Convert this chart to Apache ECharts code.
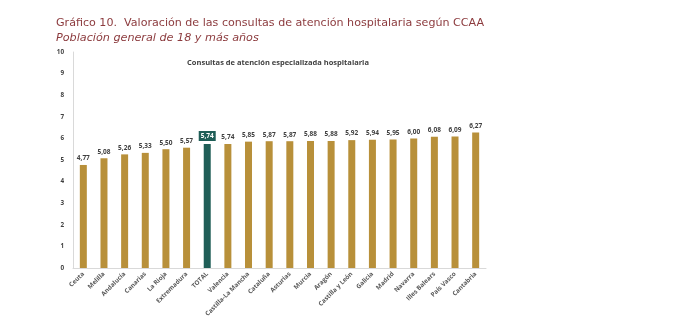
<!DOCTYPE html>
<html><head><meta charset="utf-8">
<script src="https://cdn.jsdelivr.net/npm/echarts@6/dist/echarts.min.js"></script>
<style>html,body{margin:0;padding:0;background:#fff}#c{width:684px;height:332px}</style>
</head><body><div id="c"></div>
<script>
const categories = ["Ceuta","Melilla","Andalucía","Canarias","La Rioja","Extremadura","TOTAL","Valencia","Castilla-La Mancha","Cataluña","Asturias","Murcia","Aragón","Castilla y León","Galicia","Madrid","Navarra","Illes Balears","País Vasco","Cantabria"];
const values = [4.77,5.08,5.26,5.33,5.50,5.57,5.74,5.74,5.85,5.87,5.87,5.88,5.88,5.92,5.94,5.95,6.00,6.08,6.09,6.27];
const yTicks = [0,1,2,3,4,5,6,7,8,9,10];
const GOLD = '#B8903A', TEAL = '#1F5E57';
const fmt = v => v.toFixed(2).replace('.', ',');
const data = values.map((v,i)=> categories[i]==='TOTAL' ? {
  value: v, itemStyle:{color:TEAL},
  label:{color:'#fff', backgroundColor:TEAL, padding:[2,2,1,2], fontWeight:'bold'}
} : v);
const chart = echarts.init(document.getElementById('c'), null, {renderer:'canvas'});
chart.setOption({
  animation:false,
  title:[
    {text:'Gráfico 10.  Valoración de las consultas de atención hospitalaria según CCAA', left:51, top:13,
     textStyle:{fontFamily:'DejaVu Sans, sans-serif', fontSize:11.1, fontWeight:'normal', color:'#8C3B3E'}},
    {text:'Población general de 18 y más años', left:51, top:28,
     textStyle:{fontFamily:'DejaVu Sans, sans-serif', fontSize:11.2, fontStyle:'italic', fontWeight:'normal', color:'#8C3B3E'}},
    {text:'Consultas de atención especializada hospitalaria', left:273, top:54, textAlign:'center',
     textStyle:{fontFamily:'Open Sans, sans-serif', fontSize:7.5, fontWeight:'bold', color:'#404040'}}
  ],
  grid:{left:73, right:198, top:52, bottom:64, containLabel:false},
  xAxis:{type:'category', data:categories,
    axisLine:{lineStyle:{color:'#D9D9D9'}}, axisTick:{show:false},
    axisLabel:{rotate:45, interval:0, fontSize:6.3, color:'#595959', fontFamily:'Open Sans, sans-serif', fontWeight:'bold', margin:5}},
  yAxis:{type:'value', min:0, max:10, interval:1,
    axisLine:{show:true, lineStyle:{color:'#D9D9D9'}}, axisTick:{show:false}, splitLine:{show:false},
    axisLabel:{fontSize:6.3, color:'#404040', fontFamily:'Open Sans, sans-serif', fontWeight:'bold', margin:9,
      formatter: v => yTicks.includes(v) ? String(v) : ''}},
  series:[{type:'bar', data:data, barWidth:7, itemStyle:{color:GOLD},
    label:{show:true, position:'top', distance:3, fontSize:6.5, fontWeight:'bold', color:'#404040',
      fontFamily:'Open Sans, sans-serif', formatter:p=>fmt(p.value)}}]
});
</script></body></html>
